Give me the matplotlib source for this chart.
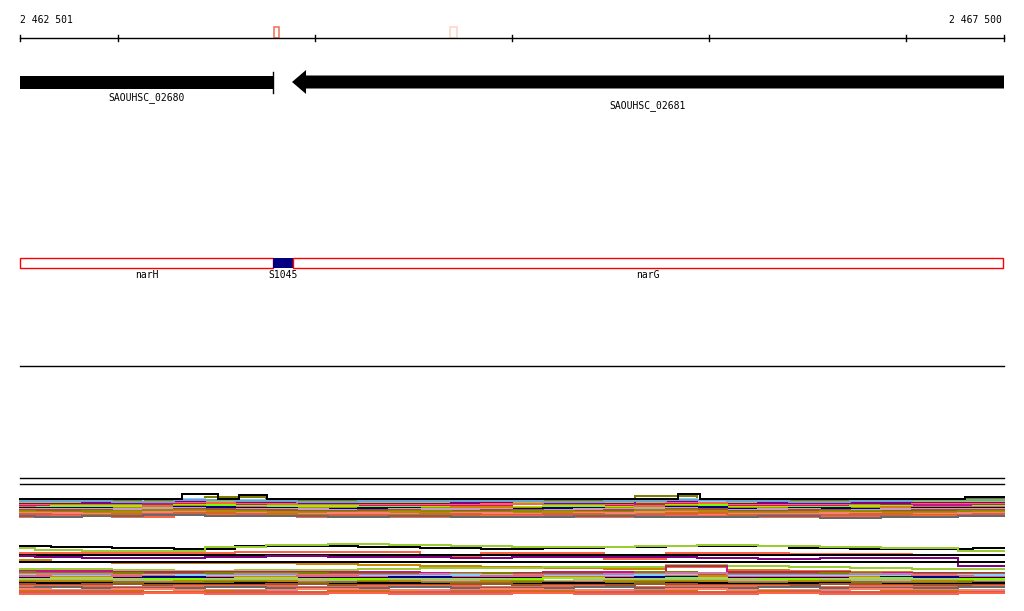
import matplotlib
matplotlib.use("Agg")
import matplotlib.pyplot as plt
from matplotlib.patches import Rectangle, Polygon

# region shown
view_start = 2462501
view_end = 2467500
tick_positions = [2463000, 2464000, 2465000, 2466000, 2467000]

# small marks on the ruler
mark_starts = [2463793, 2464686]
mark_widths = [26, 36]
mark_colors = ['#f07860', '#fbd8c8']

# genes
gene_names = ['SAOUHSC_02680', 'SAOUHSC_02681']
gene_starts = [2462501, 2463883]
gene_ends = [2463786, 2467500]
gene_strands = ['+', '-']

# feature track
feat_names = ['narH', 'S1045', 'narG']
feat_starts = [2462501, 2463786, 2463887]
feat_ends = [2463786, 2463887, 2467495]
feat_fill = [None, '#000080', None]

# top black line of the first band (breakpoints, step after each)
top_line_pos = [2462501, 2463324, 2463507, 2463614, 2463756, 2465844, 2465956, 2467300, 2467500]
top_line_vals = [499, 494, 499, 495, 499, 494, 499, 497, 497]

# coverage-like lines, values sampled at two staggered grids
grid_a = [2462501, 2462813, 2463126, 2463438, 2463751, 2464063, 2464376, 2464688, 2465000,
          2465313, 2465626, 2465938, 2466251, 2466563, 2466876, 2467188, 2467500]
grid_b = [2462501, 2462657, 2462970, 2463282, 2463595, 2463907, 2464220, 2464532, 2464845,
          2465157, 2465470, 2465782, 2466095, 2466407, 2466720, 2467032, 2467500]

band1_colors = ['#808000', '#87cefa', '#9acd32', '#800080', '#ff6347', '#c71585',
                '#7cfc00', '#cd8500', '#000080', '#cc99cc', '#a0522d', '#8b8b00', '#b8860b',
                '#fa8072', '#d2691e', '#cd5c5c', '#ff6347', '#696969', '#6ca6cd']
band1_grids = ['b', 'b', 'a', 'b', 'a', 'b', 'a', 'b', 'a', 'b', 'a', 'b', 'a', 'b', 'a',
               'b', 'a', 'b', 'a']
band1_values = [
    [501, 500, 501, 501, 497, 500, 501, 501, 500, 501, 501, 496, 501, 501, 500, 500, 499],
    [502, 502, 502, 499, 500, 503, 503, 502, 502, 503, 502, 499, 502, 502, 503, 502, 501],
    [503, 502, 503, 501, 501, 502, 502, 503, 502, 502, 502, 500, 502, 502, 503, 502, 502],
    [504, 504, 503, 502, 503, 503, 504, 504, 503, 504, 504, 501, 504, 503, 503, 503, 503],
    [505, 505, 505, 503, 504, 505, 505, 505, 504, 505, 505, 503, 505, 505, 505, 504, 504],
    [506, 506, 507, 504, 505, 507, 506, 506, 506, 507, 506, 504, 506, 506, 506, 505, 505],
    [507, 506, 506, 505, 506, 506, 507, 507, 507, 506, 507, 505, 507, 507, 506, 507, 506],
    [507, 508, 508, 506, 507, 508, 508, 508, 507, 508, 508, 506, 508, 508, 508, 507, 507],
    [508, 508, 509, 507, 508, 509, 508, 509, 509, 508, 509, 507, 509, 508, 509, 508, 508],
    [509, 509, 509, 508, 509, 509, 510, 509, 509, 510, 509, 508, 510, 509, 510, 509, 509],
    [510, 510, 511, 509, 510, 511, 510, 511, 510, 511, 510, 509, 511, 510, 511, 510, 510],
    [511, 512, 511, 510, 511, 512, 512, 511, 512, 511, 512, 510, 512, 512, 511, 512, 511],
    [512, 513, 512, 511, 512, 513, 512, 513, 513, 512, 513, 511, 513, 512, 513, 513, 512],
    [513, 513, 514, 512, 513, 514, 513, 514, 513, 514, 513, 512, 514, 514, 513, 514, 513],
    [514, 515, 514, 513, 514, 515, 515, 514, 515, 514, 515, 513, 515, 515, 514, 515, 514],
    [515, 515, 516, 514, 515, 516, 516, 516, 516, 515, 516, 515, 516, 515, 516, 516, 515],
    [517, 516, 517, 515, 516, 517, 517, 517, 516, 517, 517, 516, 517, 517, 517, 516, 516],
    [516, 517, 516, 515, 516, 516, 517, 516, 517, 517, 516, 517, 517, 516, 518, 517, 516],
    [501, 501, 502, 500, 501, 502, 501, 501, 501, 502, 501, 500, 501, 502, 501, 500, 500],
]

band2_colors = ['#000000', '#9acd32', '#ff6347', '#000000', '#800080', '#cd8500', '#000000']
band2_grids = ['a', 'b', 'a', 'a', 'b', 'a', 'a']
band2_values = [
    [546, 547, 548, 549, 546, 546, 547, 548, 549, 548, 547, 546, 546, 548, 549, 549, 548],
    [548, 550, 551, 551, 547, 545, 544, 545, 546, 547, 547, 546, 545, 546, 547, 548, 551],
    [553, 553, 553, 553, 552, 552, 552, 557, 553, 553, 559, 553, 553, 554, 554, 555, 555],
    [555, 555, 555, 555, 555, 555, 555, 555, 555, 555, 555, 555, 555, 555, 555, 555, 555],
    [556, 557, 558, 558, 557, 556, 557, 557, 558, 557, 557, 557, 558, 559, 558, 558, 566],
    [560, 562, 563, 563, 563, 564, 565, 566, 567, 568, 569, 567, 570, 571, 572, 573, 573],
    [562, 562, 562, 562, 562, 562, 562, 562, 562, 562, 562, 562, 562, 562, 562, 562, 562],
]

band3_colors = ['#9acd32', '#c71585', '#808000', '#cc79a7', '#87cefa', '#ff6347', '#000080',
                '#7cfc00', '#c8a2c8', '#b8860b', '#808000', '#000000', '#a0522d', '#ff6347',
                '#696969', '#fa8072', '#d2691e', '#cd5c5c', '#ff6347']
band3_grids = ['a', 'a', 'b', 'a', 'b', 'a', 'b', 'a', 'b', 'a', 'b', 'a', 'b', 'a', 'b', 'a',
               'b', 'a', 'b']
band3_values = [
    [569, 569, 570, 571, 570, 570, 569, 568, 568, 567, 567, 565, 566, 567, 568, 569, 569],
    [571, 571, 572, 572, 572, 572, 572, 573, 573, 572, 572, 566, 572, 572, 573, 573, 573],
    [572, 573, 573, 574, 573, 573, 574, 574, 573, 574, 574, 572, 574, 574, 573, 574, 574],
    [574, 574, 575, 575, 574, 575, 575, 574, 575, 575, 574, 573, 575, 575, 574, 575, 575],
    [575, 576, 576, 575, 576, 576, 576, 576, 575, 576, 576, 575, 576, 576, 576, 576, 575],
    [576, 577, 576, 577, 577, 576, 577, 577, 576, 577, 577, 576, 577, 577, 577, 576, 577],
    [578, 578, 578, 577, 578, 578, 578, 577, 578, 578, 578, 577, 578, 578, 578, 577, 578],
    [579, 578, 579, 579, 578, 579, 579, 579, 579, 578, 579, 578, 579, 579, 578, 579, 579],
    [580, 580, 580, 581, 580, 580, 581, 580, 580, 581, 580, 580, 580, 581, 580, 580, 581],
    [581, 581, 582, 581, 581, 582, 581, 582, 581, 582, 581, 581, 582, 581, 582, 581, 582],
    [582, 583, 582, 583, 582, 583, 582, 583, 583, 582, 583, 582, 583, 583, 582, 583, 582],
    [583, 583, 584, 584, 583, 584, 583, 584, 584, 583, 584, 583, 584, 583, 584, 584, 583],
    [584, 585, 584, 585, 585, 584, 585, 585, 584, 585, 585, 584, 585, 585, 584, 585, 585],
    [586, 586, 587, 586, 586, 587, 586, 586, 587, 586, 587, 586, 586, 587, 586, 587, 586],
    [588, 587, 588, 588, 587, 588, 588, 587, 588, 588, 587, 588, 588, 587, 588, 588, 587],
    [589, 590, 589, 590, 590, 589, 590, 590, 589, 590, 590, 589, 590, 590, 589, 590, 590],
    [591, 591, 591, 592, 591, 592, 591, 592, 591, 591, 592, 591, 592, 591, 592, 591, 592],
    [593, 592, 593, 593, 592, 593, 593, 592, 593, 593, 592, 593, 593, 592, 593, 593, 592],
    [594, 594, 594, 593, 594, 594, 593, 594, 594, 593, 594, 594, 594, 593, 594, 594, 593],
]

# layout: rows in pixels from top
ruler_y = 38
gene_y = 82
feat_y = 263
sep_lines_y = [366, 478, 484]

bp_per_px = (view_end - view_start) / 984.0
font = dict(family='DejaVu Sans Mono', fontsize=7)

fig = plt.figure(figsize=(10.24, 6.11), dpi=100)
ax = fig.add_axes([0, 0, 1, 1])
ax.set_xlim(view_start - 20 * bp_per_px, view_start + 1004 * bp_per_px)
ax.set_ylim(611, 0)
ax.axis('off')

# ruler
ax.plot([view_start, view_end], [ruler_y, ruler_y], color='black', lw=1)
for t in [view_start] + tick_positions + [view_end]:
    ax.plot([t, t], [ruler_y - 3, ruler_y + 3], color='black', lw=1)
ax.text(view_start, 20, '2 462 501', ha='left', va='center', **font)
ax.text(view_end - 2 * bp_per_px, 20, '2 467 500', ha='right', va='center', **font)
for s, w, c in zip(mark_starts, mark_widths, mark_colors):
    ax.add_patch(Rectangle((s, 26.5), w, 11, fill=False, edgecolor=c, lw=1.2))

# genes
head = 14 * bp_per_px
for name, s, e, strand, k in zip(gene_names, gene_starts, gene_ends, gene_strands, range(2)):
    if strand == '+':
        ax.add_patch(Rectangle((s, gene_y - 6.5), e - s, 13, color='black', lw=0))
        ax.plot([e, e], [gene_y - 10, gene_y + 11], color='black', lw=1)
    else:
        pts = [(s, gene_y), (s + head, gene_y - 12), (s + head, gene_y - 6.5), (e, gene_y - 6.5),
               (e, gene_y + 6.5), (s + head, gene_y + 6.5), (s + head, gene_y + 12)]
        ax.add_patch(Polygon(pts, closed=True, color='black', lw=0))
    ax.text((s + e) / 2, gene_y + 16 + 8 * k, name, ha='center', va='center', **font)

# features
for name, s, e, fc in zip(feat_names, feat_starts, feat_ends, feat_fill):
    if fc is None:
        ax.add_patch(Rectangle((s, feat_y - 5), e - s, 10, fill=False, edgecolor='red', lw=1))
    else:
        ax.add_patch(Rectangle((s, feat_y - 5), e - s, 10, facecolor=fc, edgecolor='none'))
    ax.text((s + e) / 2, feat_y + 12, name, ha='center', va='center', **font)

for y in sep_lines_y:
    ax.plot([view_start, view_end], [y, y], color='black', lw=1)

# line bands
grids = {'a': grid_a, 'b': grid_b}
for colors, gkeys, values in [(band1_colors, band1_grids, band1_values),
                              (band2_colors, band2_grids, band2_values),
                              (band3_colors, band3_grids, band3_values)]:
    for c, g, v in zip(colors, gkeys, values):
        ax.plot(grids[g], v, color=c, lw=1.1, drawstyle='steps-mid', antialiased=False)
ax.plot(top_line_pos, top_line_vals, color='black', lw=1.1, drawstyle='steps-post',
        antialiased=False)

fig.savefig('out.png', dpi=100)
